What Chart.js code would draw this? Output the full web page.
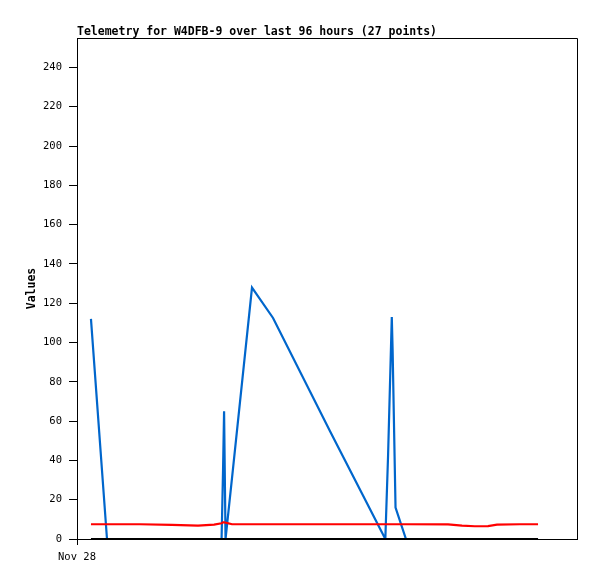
<!DOCTYPE html>
<html>
<head>
<meta charset="utf-8">
<script src="https://cdn.jsdelivr.net/npm/chart.js@4/dist/chart.umd.min.js"></script>
<style>
  body { margin: 0; background: #fff; }
  canvas { display: block; }
</style>
</head>
<body>
<canvas id="telemetryChart" width="597" height="579"></canvas>
<script>
const chartTitle = 'Telemetry for W4DFB-9 over last 96 hours (27 points)';
const xTickLabels = ['Nov 28'];

// hours after Nov 28 00:00, one per packet
const hours = [0.67, 1.44, 3.02, 4.56, 5.81, 6.58, 6.94, 7.01, 7.06, 7.13,
  7.44, 8.40, 9.41, 12.14, 14.80, 14.93, 15.11, 15.15, 15.29, 15.79,
  17.81, 18.48, 19.10, 19.73, 20.16, 21.26, 22.13];

const blueValues = [112, 0, 0, 0, 0, 0, 0, 35, 65, 0,
  31, 128, 112.5, 55, 0, 42, 113, 96, 16, 0,
  0, 0, 0, 0, 0, 0, 0];

const redValues = [7.5, 7.5, 7.5, 7.2, 6.8, 7.3, 8, 8.5, 8.5, 8.3,
  7.5, 7.5, 7.5, 7.5, 7.5, 7.5, 7.5, 7.5, 7.5, 7.5,
  7.4, 6.8, 6.5, 6.6, 7.3, 7.5, 7.5];

const blackValues = [0, 0, 0, 0, 0, 0, 0, 0, 0, 0,
  0, 0, 0, 0, 0, 0, 0, 0, 0, 0,
  0, 0, 0, 0, 0, 0, 0];

const monoFont = "'DejaVu Sans Mono', 'Liberation Mono', monospace";

function toPoints(values) {
  return values.map((v, i) => ({ x: hours[i], y: v }));
}

const frameAndTitle = {
  id: 'frameAndTitle',
  beforeDraw(chart) {
    const ctx = chart.ctx;
    ctx.save();
    ctx.fillStyle = '#fff';
    ctx.fillRect(0, 0, chart.width, chart.height);
    ctx.restore();
  },
  afterDraw(chart) {
    const { ctx, chartArea } = chart;
    ctx.save();
    ctx.strokeStyle = '#000';
    ctx.lineWidth = 1;
    ctx.beginPath();
    ctx.moveTo(chartArea.left, chartArea.top + 0.5);
    ctx.lineTo(chartArea.right + 0.5, chartArea.top + 0.5);
    ctx.lineTo(chartArea.right + 0.5, chartArea.bottom);
    ctx.stroke();
    ctx.fillStyle = '#000';
    ctx.font = 'bold 11.5px ' + monoFont;
    ctx.textAlign = 'left';
    ctx.textBaseline = 'alphabetic';
    ctx.fillText(chartTitle, chartArea.left, 35);
    ctx.restore();
  }
};

const config = {
  type: 'line',
  data: {
    datasets: [
      {
        label: 'Channel 3',
        data: toPoints(blackValues),
        borderColor: '#000000',
        borderWidth: 2,
      },
      {
        label: 'Channel 2',
        data: toPoints(redValues),
        borderColor: '#ff0000',
        borderWidth: 2.2,
      },
      {
        label: 'Channel 1',
        data: toPoints(blueValues),
        borderColor: '#0066cc',
        borderWidth: 2.2,
      }
    ]
  },
  options: {
    responsive: false,
    animation: false,
    layout: { padding: { top: 38, right: 20, left: 0, bottom: 0 } },
    elements: {
      point: { radius: 0 },
      line: { tension: 0 }
    },
    plugins: {
      legend: { display: false },
      tooltip: { enabled: false }
    },
    scales: {
      x: {
        type: 'linear',
        min: 0,
        max: 24,
        afterBuildTicks: (scale) => {
          scale.ticks = [{ value: 0 }];
        },
        afterFit: (scale) => { scale.height = 40; },
        ticks: {
          color: '#000',
          font: { family: monoFont, size: 10.5 },
          padding: 6,
          maxRotation: 0,
          callback: (value, index) => xTickLabels[index]
        },
        grid: {
          drawOnChartArea: false,
          drawTicks: true,
          tickLength: 6,
          color: '#000'
        },
        border: { color: '#000', width: 1 }
      },
      y: {
        min: 0,
        max: 255,
        afterFit: (scale) => { scale.width = 77; },
        ticks: {
          stepSize: 20,
          includeBounds: false,
          color: '#000',
          font: { family: monoFont, size: 10.5 },
          padding: 7
        },
        grid: {
          drawOnChartArea: false,
          drawTicks: true,
          tickLength: 8,
          color: '#000'
        },
        border: { color: '#000', width: 1 },
        title: {
          display: true,
          text: 'Values',
          color: '#000',
          font: { family: monoFont, size: 11.5, weight: 'bold' },
          padding: { top: 25, bottom: 0 }
        }
      }
    }
  },
  plugins: [frameAndTitle]
};

const telemetryChart = new Chart(document.getElementById('telemetryChart'), config);
</script>
</body>
</html>
